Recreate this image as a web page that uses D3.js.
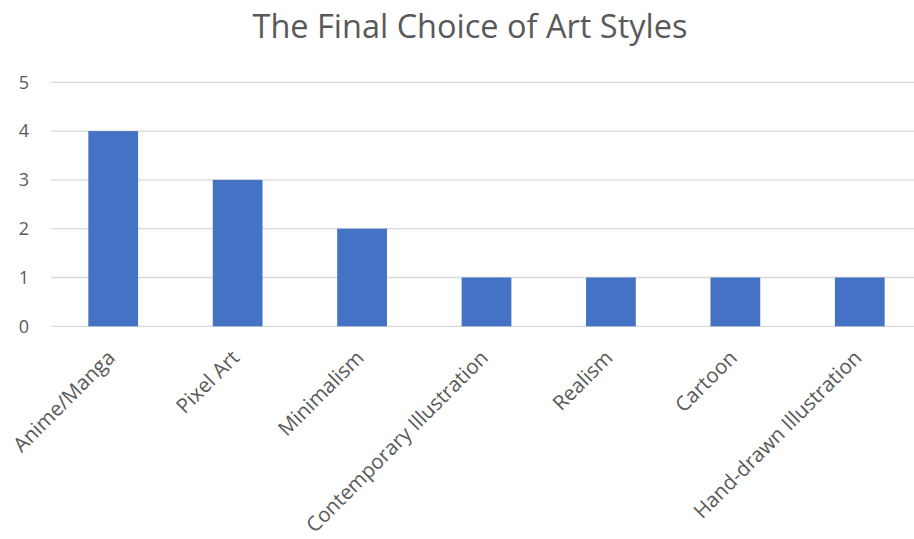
<!DOCTYPE html>
<html><head><meta charset="utf-8">
<script src="https://cdn.jsdelivr.net/npm/d3@7"></script>
<style>html,body{margin:0;padding:0;background:#fff;}svg{display:block;}</style>
</head><body>
<svg id="chart" width="914" height="539"></svg>
<script>
const categories = ["Anime/Manga","Pixel Art","Minimalism","Contemporary Illustration","Realism","Cartoon","Hand-drawn Illustration"];
const values = [4,3,2,1,1,1,1];
const yTicks = [0,1,2,3,4,5];
const title = "The Final Choice of Art Styles";

const svg = d3.select("#chart");
const font = "'Open Sans', sans-serif";
const textColor = "#595959";

const x = d3.scaleBand().domain(categories).range([51, 922]).paddingInner(0.6).paddingOuter(0.3);
const y = d3.scaleLinear().domain([0,5]).range([326.3, 82.3]);

// gridlines
svg.append("g").selectAll("line").data(yTicks).join("line")
  .attr("x1", 51).attr("x2", 922)
  .attr("y1", d => y(d)).attr("y2", d => y(d))
  .attr("stroke", "#d9d9d9").attr("stroke-width", 1.3);

// y axis labels
const yAxis = d3.axisLeft(y).tickValues(yTicks).tickFormat(d3.format("d")).tickSize(0).tickPadding(0);
const gy = svg.append("g").attr("transform", "translate(29,0)").call(yAxis);
gy.select(".domain").remove();
gy.selectAll("text").attr("font-family", font).attr("font-size", 18).attr("fill", textColor);

// bars
svg.append("g").selectAll("rect").data(values).join("rect")
  .attr("x", (d,i) => x(categories[i]))
  .attr("width", x.bandwidth())
  .attr("y", d => y(d))
  .attr("height", d => y(0) - y(d))
  .attr("fill", "#4472C4");

// x axis labels
const xAxis = d3.axisBottom(x).tickSize(0).tickPadding(0);
const gx = svg.append("g").attr("transform", "translate(0,326)").call(xAxis);
gx.select(".domain").remove();
gx.selectAll("text")
  .attr("font-family", font).attr("font-size", 20.5).attr("fill", textColor)
  .attr("text-anchor", "end")
  .attr("dy", null).attr("y", null)
  .attr("transform", "translate(3,33) rotate(-45)");

// title
svg.append("text").attr("x", 470).attr("y", 38).attr("text-anchor", "middle")
  .attr("font-family", font).attr("font-size", 32.5).attr("fill", textColor)
  .text(title);
</script>
</body></html>
